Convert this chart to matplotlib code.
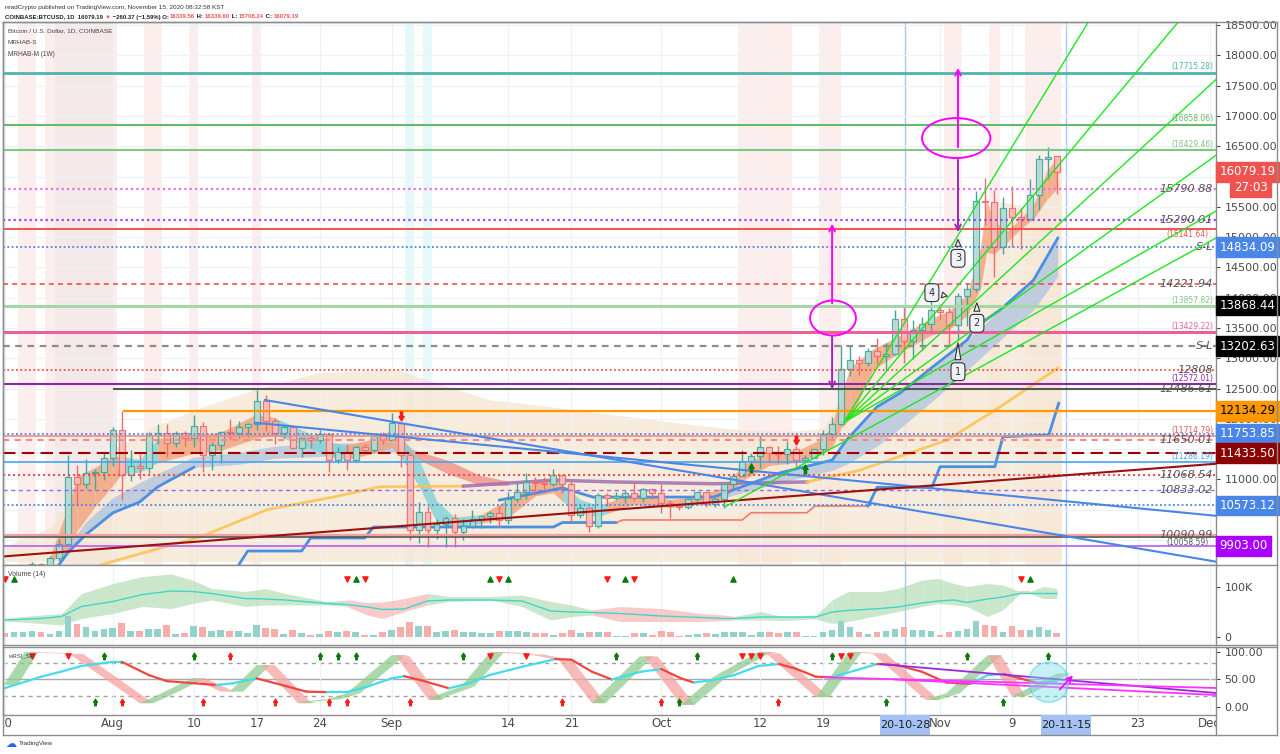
import numpy as np
import matplotlib
matplotlib.use("Agg")
import matplotlib.pyplot as plt
from matplotlib import font_manager
from matplotlib.patches import Ellipse, Polygon, Rectangle
from matplotlib.lines import Line2D
from matplotlib.transforms import Bbox

plt.rcParams['font.family'] = ['DejaVu Sans']
installed = {f.name for f in font_manager.fontManager.ttflist}
NARROW = 'Liberation Sans Narrow' if 'Liberation Sans Narrow' in installed else 'Liberation Sans'

W, H = 1280, 754


def fx(px):
    return px / W


def fy(py):
    return 1 - py / H


# ---------------- data (day index 0 = 2020-07-20) ----------------
opens = [9170, 9160, 9390, 9530, 9610, 9550, 9710, 9940, 11040, 10930,
         11110, 11120, 11350, 11810, 11070, 11230, 11190, 11740, 11770, 11600,
         11760, 11680, 11880, 11400, 11570, 11780, 11770, 11860, 11910, 12300,
         11960, 11760, 11860, 11520, 11680, 11650, 11750, 11330, 11460, 11320,
         11530, 11480, 11710, 11660, 11930, 11400, 10170, 10470, 10170, 10260,
         10370, 10130, 10230, 10340, 10390, 10440, 10330, 10680, 10790, 10960,
         10940, 10930, 11080, 10920, 10420, 10530, 10240, 10740, 10690, 10730,
         10770, 10700, 10840, 10780, 10620, 10570, 10550, 10670, 10790, 10600,
         10670, 10920, 11060, 11300, 11380, 11540, 11430, 11420, 11500, 11320,
         11360, 11500, 11750, 11920, 12820, 12980, 12930, 13120, 13030, 13070,
         13650, 13280, 13460, 13560, 13800, 13760, 13550, 14030, 14150, 15590,
         15580, 14830, 15480, 15330, 15300, 15700, 16290, 16339.56]
highs = [9195, 9430, 9550, 9640, 9630, 9730, 10020, 11400, 11240, 11340,
         11170, 11450, 11860, 12130, 11480, 11420, 11790, 11910, 11910, 11800,
         11800, 12060, 11950, 11620, 11800, 12000, 11960, 11930, 12470, 12390,
         12020, 11890, 11880, 11690, 11720, 11810, 11770, 11540, 11590, 11550,
         11580, 11720, 11780, 12090, 11950, 11460, 10630, 10560, 10350, 10400,
         10430, 10350, 10500, 10410, 10480, 10560, 10800, 10940, 11100, 11040,
         11040, 11180, 11080, 10990, 10580, 10550, 10780, 10780, 10800, 10810,
         10960, 10860, 10850, 10920, 10660, 10600, 10690, 10800, 10800, 10690,
         10950, 11110, 11490, 11440, 11720, 11560, 11560, 11630, 11550, 11400,
         11510, 11820, 12030, 13220, 13200, 13030, 13170, 13340, 13250, 13790,
         13860, 13640, 13680, 14100, 13900, 13830, 14070, 14250, 15760, 15970,
         15770, 15660, 15850, 15480, 15960, 16350, 16490, 16339.60]
lows = [9125, 9150, 9280, 9480, 9480, 9540, 9650, 9920, 10560, 10860,
        10840, 10990, 11230, 10660, 10970, 11010, 11100, 11590, 11370, 11530,
        11550, 11530, 11120, 11160, 11270, 11650, 11680, 11700, 11820, 11800,
        11580, 11680, 11500, 11370, 11520, 11600, 11130, 11280, 11150, 11290,
        11440, 11460, 11590, 11650, 11200, 10000, 9960, 9880, 10020, 9890,
        9880, 10000, 10200, 10200, 10290, 10210, 10260, 10630, 10680, 10750,
        10820, 10900, 10770, 10300, 10360, 10140, 10200, 10560, 10660, 10620,
        10650, 10630, 10680, 10440, 10370, 10490, 10520, 10630, 10540, 10540,
        10530, 10830, 11050, 11230, 11190, 11300, 11280, 11260, 11230, 11310,
        11350, 11410, 11690, 11900, 12700, 12730, 12880, 12900, 12800, 13060,
        12920, 12990, 13140, 13430, 13640, 13220, 13300, 13530, 14100, 15200,
        14350, 14720, 14830, 14810, 15290, 15450, 15960, 15708.24]
closes = [9160, 9390, 9530, 9610, 9550, 9710, 9940, 11040, 10930, 11110,
          11120, 11350, 11810, 11070, 11230, 11190, 11740, 11770, 11600, 11760,
          11680, 11880, 11400, 11570, 11780, 11770, 11860, 11910, 12300, 11960,
          11760, 11860, 11520, 11680, 11650, 11750, 11330, 11460, 11320, 11530,
          11480, 11710, 11660, 11930, 11400, 10170, 10470, 10170, 10260, 10370,
          10130, 10230, 10340, 10390, 10440, 10330, 10680, 10790, 10960, 10940,
          10930, 11080, 10920, 10420, 10530, 10240, 10740, 10690, 10730, 10770,
          10700, 10840, 10780, 10620, 10570, 10550, 10670, 10790, 10600, 10670,
          10920, 11060, 11300, 11380, 11540, 11430, 11420, 11500, 11320, 11360,
          11500, 11750, 11920, 12820, 12980, 12930, 13120, 13030, 13070, 13650,
          13280, 13460, 13560, 13800, 13760, 13550, 14030, 14150, 15590, 15580,
          14830, 15480, 15330, 15300, 15700, 16290, 16330, 16079.19]

volume_k = [8, 10, 10, 13, 10, 7, 12, 43, 27, 20, 12, 17, 18, 29, 13, 12, 17, 17, 25, 7,
            8, 22, 21, 13, 15, 13, 13, 9, 25, 18, 17, 7, 15, 9, 5, 7, 13, 10, 13, 10,
            5, 5, 10, 15, 20, 30, 23, 22, 10, 13, 15, 11, 11, 8, 8, 12, 13, 12, 10, 9,
            9, 5, 9, 15, 9, 10, 10, 10, 3, 3, 9, 8, 5, 13, 10, 3, 5, 7, 8, 7,
            11, 10, 10, 5, 11, 10, 8, 10, 10, 3, 3, 10, 15, 32, 20, 11, 7, 10, 12, 17,
            21, 15, 15, 12, 5, 10, 13, 17, 32, 25, 23, 11, 22, 15, 15, 21, 15, 9]

# MRHAB-S short ribbon
sb_i = [5, 7, 8, 10, 12, 13, 15, 17, 21, 24, 28, 30, 33, 36, 38, 41, 43, 44, 46, 48,
        50, 53, 56, 59, 61, 62, 64, 66, 67, 70, 74, 77, 80, 82, 85, 88, 91, 92, 93, 94,
        96.6, 99.6, 103, 105, 107, 108.5, 109.2, 110, 111.5, 113, 114.4, 115.9, 117]
sb_lo = [9620, 9850, 10150, 10550, 10900, 11100, 11120, 11280, 11430, 11480,
         11680, 11730, 11580, 11380, 11330, 11430, 11530, 11380, 10900, 10300,
         10180, 10280, 10380, 10730, 10780, 10640, 10440, 10390, 10440, 10590,
         10540, 10590, 10690, 10980, 11230, 11280, 11430, 11530, 11850, 12000,
         12820, 13100, 13380, 13480, 13700, 14150, 14750, 14720, 14920, 15140,
         15300, 15620, 15800]
sb_hi = [9720, 10550, 11050, 11200, 11380, 11380, 11330, 11680, 11730, 11780,
         12080, 12020, 11820, 11620, 11570, 11670, 11820, 11720, 11350, 10650,
         10380, 10420, 10680, 10970, 11020, 10920, 10670, 10570, 10620, 10770,
         10670, 10720, 10880, 11230, 11470, 11470, 11680, 11900, 12400, 12850,
         13160, 13380, 13660, 13780, 14050, 14820, 15600, 15260, 15100, 15310,
         15530, 16100, 16300]
sb_bull = "11111001111000111000011110001111111111111111111111111"

# weekly cloud (beige)
beige_i = [0, 5, 8, 12, 17, 22, 27.6, 34.8, 41.7, 43, 48, 54, 57.3, 66, 75, 81.8,
           88, 91, 95, 98, 104, 108, 110, 114, 117.5]
beige_top = [9900, 10200, 10900, 11500, 11900, 12200, 12476, 12763, 12807, 12840,
             12592, 12312, 12262, 12100, 11932, 11817, 11800, 11850, 12900, 13100,
             13700, 14100, 15600, 15500, 16300]
beige_floor = 9650

# slow blue band / line
bb1_i = [6, 9, 12, 15, 17, 21, 26, 30, 35, 39, 43, 45]
bb1_lo = [9590, 10090, 10450, 10630, 10880, 11200, 11250, 11350, 11380, 11420, 11450, 11450]
bb1_hi = [9700, 10300, 10700, 10950, 11100, 11370, 11450, 11550, 11600, 11600, 11620, 11500]
bl1_i = [6, 7, 9, 12, 15, 17, 21]
bl1_v = [9590, 9800, 10090, 10450, 10630, 10880, 11200]
bl2_i = [55, 62, 65.4, 78.8, 82.5, 86.2, 92, 93.6, 97, 99.6, 103.2, 107, 108, 110.7, 114.4, 117.1]
bl2_v = [10660, 10860, 10710, 10710, 10910, 11110, 11320, 11650, 12200, 12430, 12860,
         13300, 13520, 13800, 14290, 14985]
bb2_i = [78.8, 82.5, 86.2, 92, 93.6, 97, 99.6, 103.2, 107, 110.7, 114.4, 117.1]
bb2_hi = [10710, 10910, 11110, 11320, 11650, 12200, 12430, 12860, 13300, 13800, 14290, 14985]
bb2_lo = [10650, 10800, 10950, 11150, 11250, 11550, 11850, 12300, 12800, 13300, 13800, 14350]

# red ribbon after the September drop
rr_i = [44.5, 45.4, 49.2, 52.8, 56]
rr_hi = [11600, 11490, 11320, 11070, 10970]
rr_lo = [11500, 11370, 11100, 10910, 10900]

# moving average (yellow / purple parts)
ma_yellow1_i = [10.6, 15.4, 21.7, 29.1, 36.5, 41.7, 51]
ma_yellow1_v = [9590, 9790, 10050, 10500, 10710, 10880, 10890]
ma_purple_i = [51, 55, 61, 67.6, 78.8, 89.2]
ma_purple_v = [10890, 10930, 10990, 10960, 10930, 10960]
ma_yellow2_i = [89.2, 95, 104.8, 110.7, 117.1]
ma_yellow2_v = [10960, 11150, 11650, 12200, 12840]

# weekly step line
step_blue1_i = [26, 27, 33, 34, 40, 41, 61, 62, 68]
step_blue1_v = [9590, 9820, 9820, 10035, 10035, 10216, 10216, 10290, 10290]
step_red_i = [68, 68.7, 82, 83, 89.2, 90.1, 96]
step_red_v = [10290, 10332, 10332, 10452, 10452, 10563, 10563]
step_blue2_i = [96, 97, 103.1, 104, 110.1, 111, 116.1, 117.2]
step_blue2_v = [10563, 10871, 10871, 11211, 11211, 11706, 11734, 12257]

# drawn trend lines (x0, p0, x1, p1)
blue_trends = [(28.9, 12312, 134.7, 9644), (27.8, 11937, 134.7, 10401)]
red_trend = (-0.56, 9726, 134.7, 11260)
green_fan = [(93.3, 11945, 120.5, 18550), (93.3, 11945, 130.5, 18550),
             (93.3, 11945, 134.7, 17600), (93.3, 11945, 134.7, 16350),
             (93.3, 11945, 134.7, 15430), (80.1, 10550, 134.7, 14985)]

# horizontal levels: price, colour, style, width, start index
levels = [
    (17715.28, '#4db6ac', 'solid', 2.0, None),
    (16858.06, '#66bb6a', 'solid', 1.5, None),
    (16429.46, '#81c784', 'solid', 1.5, None),
    (15790.88, '#f06cf0', 'dot', 1.6, None),
    (15290.01, '#a142f4', 'dot', 1.6, None),
    (15141.64, '#ef5350', 'solid', 1.4, None),
    (14834.09, '#4a86e8', 'dot', 1.3, None),
    (14221.94, '#f05050', 'dash', 1.2, None),
    (13857.82, '#a5d6a7', 'solid', 2.2, None),
    (13429.22, '#ec5f99', 'solid', 2.2, None),
    (13202.63, '#8c8c8c', 'dash', 1.6, None),
    (12808.00, '#f05050', 'dot', 1.3, None),
    (12572.01, '#8e24aa', 'solid', 1.5, None),
    (12486.61, '#555555', 'solid', 1.5, 12.0),
    (12134.29, '#ff9800', 'solid', 1.6, 13.1),
    (11753.85, '#4a86e8', 'dot', 1.3, None),
    (11714.79, '#f28b82', 'solid', 1.2, None),
    (11650.01, '#f48a8a', 'dash', 1.5, None),
    (11433.50, '#a00000', 'longdash', 1.5, None),
    (11286.19, '#42a5f5', 'solid', 1.2, None),
    (11068.54, '#f05050', 'dot', 1.5, None),
    (10833.02, '#9c6ade', 'dash', 1.0, None),
    (10573.12, '#4a86e8', 'dot', 1.3, None),
    (10090.99, '#f4a0a0', 'solid', 1.6, None),
    (10058.59, '#555555', 'solid', 1.2, None),
    (9903.00, '#b45ff0', 'solid', 1.2, None),
]
italic_labels = [(15790.88, '15790.88'), (15290.01, '15290.01'), (14834.09, 'S-L'),
                 (14221.94, '14221.94'), (13202.63, 'S-L'), (12808.00, '12808'),
                 (12486.61, '12486.61'), (11650.01, '11650.01'), (11068.54, '11068.54'),
                 (10833.02, '10833.02'), (10090.99, '10090.99')]
# price, colour, label above (True) or just below (False) its line
small_labels = [(17715.28, '#4db6ac', True), (16858.06, '#66bb6a', True),
                (16429.46, '#81c784', True), (15141.64, '#ef5350', False),
                (13857.82, '#81c784', True), (13429.22, '#ec5f99', True),
                (12572.01, '#8e24aa', True), (11714.79, '#ef5350', True),
                (11286.19, '#42a5f5', True), (10058.59, '#555555', False)]
price_tags = [(16079.19, '#ef5350', 'white'), (14834.09, '#4a86e8', 'white'),
              (13868.44, '#000000', 'white'), (13202.63, '#000000', 'white'),
              (12134.29, '#ff9800', 'black'), (11753.85, '#4a86e8', 'white'),
              (11433.50, '#8b0000', 'white'), (10573.12, '#4a86e8', 'white'),
              (9903.00, '#aa00ff', 'white')]
hidden_ticks = [16000, 11500, 10500, 10000]

# volume envelope
ve_i = [0, 4, 6.3, 8.5, 12, 15.3, 18.5, 20.8, 23, 26.7, 28.9, 31.2, 35.8, 38, 40.3,
        42, 44.4, 47, 49.4, 54, 57.5, 60.7, 63, 65.3, 68.4, 73, 77.5, 80, 81.1, 84,
        86.6, 90.2, 92, 93.8, 97.4, 99.3, 102, 103.8, 105.6, 107, 109.3, 111, 112.9,
        114, 115.5, 117]
ve_up = [38, 44, 47, 87, 107, 121, 126, 114, 97, 91, 97, 87, 71, 74, 69, 70, 77, 87,
         81, 81, 84, 71, 64, 54, 61, 57, 47, 44, 41, 51, 41, 44, 74, 91, 91, 97, 114,
         117, 107, 101, 107, 104, 91, 91, 101, 97]
ve_lo = [32, 27, 24, 37, 47, 61, 57, 67, 74, 61, 64, 64, 64, 61, 44, 37, 51, 64, 71,
         74, 61, 34, 41, 44, 31, 31, 31, 33, 34, 34, 33, 36, 27, 31, 44, 51, 61, 67,
         64, 61, 41, 54, 87, 87, 77, 77]
ve_mid = [34, 37, 41, 61, 71, 85, 92, 91, 87, 77, 76, 74, 67, 65, 60, 55, 56, 72, 74,
          74, 72, 52, 50, 49, 47, 42, 39, 37, 37, 40, 40, 40, 50, 53, 57, 60, 68, 72,
          74, 69, 76, 80, 87, 87, 87, 87]
ve_green = "1111111111111000011111100000111111111111110111"
vol_tri_down = [0, 38, 40, 55, 67, 70, 113]
vol_tri_up = [1, 39, 54, 56, 69, 81, 114]

# wRSI
rsi_i = [-0.1, 4, 6.2, 8.5, 12, 13, 16, 18, 21.2, 23.5, 25.3, 28, 30.8, 33.5, 35.8,
         38, 40.3, 43, 44.4, 46.2, 49.4, 51.6, 53.9, 57.5, 61.2, 63, 65.3, 67.5, 70.7,
         73, 75.2, 76.6, 78.8, 81.1, 83.8, 86.1, 87.9, 90.2, 92, 94.7, 97, 99.3, 102,
         104.7, 107.4, 109.3, 111.1, 112.9, 114.7, 117]
rsi_v = [34, 55, 64, 74.5, 82, 82, 58, 47, 43, 40, 43, 52, 40, 28, 27, 27, 37, 52,
         56, 49, 34, 43, 58, 73, 87, 86, 64, 50, 64, 69, 52, 44.5, 49, 58, 74.5, 78,
         70, 55, 54, 67, 78, 76, 64, 44.5, 42, 58, 60, 52, 44.5, 46]
wr_i = [-0.1, 2.2, 7.2, 15, 16.5, 20.8, 24, 25, 28, 28.5, 32.6, 33, 35.8, 38, 43,
        43.5, 47.1, 47.6, 50.7, 54, 58.5, 61.6, 65.3, 65.8, 70.6, 71.1, 75.2, 78.8,
        83.8, 84.7, 90.2, 93.8, 96.5, 102.4, 104.7, 109.3, 112, 117]
wr_v = [40, 100, 96, 7, 18, 52, 28, 28, 76, 76, 7, 10, 14, 25, 94, 92, 13, 19, 37,
        100, 95, 85, 7, 15, 92, 92, 4, 55, 100, 97, 18, 100, 97, 13, 25, 94, 19, 61]
rsi_top_down = [3, 7, 54, 58, 82, 83, 84, 93, 94]
rsi_top_up_red = [25]
rsi_top_up_green = [11, 21, 35, 37, 39, 51, 68, 77, 92, 107, 116]
rsi_bot_up_red = [13, 22, 30, 36, 38, 45, 62, 73, 86]
rsi_bot_up_green = [10, 75, 98, 111]

# x axis labels
xt_pos = [0, 12, 21, 28, 35, 43, 56, 63, 73, 84, 91, 104, 112, 126, 134]
xt_lab = ['20', 'Aug', '10', '17', '24', 'Sep', '14', '21', 'Oct', '12', '19', 'Nov', '9', '23', 'Dec']
cursor_pos = [100.1, 118]
cursor_lab = ['20-10-28', '20-11-15']

XMIN, XMAX = -0.22, 134.7
PMIN, PMAX = 9589, 18550

# ---------------- figure ----------------
fig = plt.figure(figsize=(12.8, 7.54), dpi=100)
renderer = fig.canvas.get_renderer()
ax = fig.add_axes([fx(3), fy(565), fx(1216) - fx(3), fy(22) - fy(565)])
axv = fig.add_axes([fx(3), fy(645), fx(1216) - fx(3), fy(565) - fy(645)])
axr = fig.add_axes([fx(3), fy(715), fx(1216) - fx(3), fy(647) - fy(715)])


def fit_width(t, target_px):
    w = t.get_window_extent(renderer=renderer).width
    t.set_fontsize(t.get_fontsize() * target_px / w)
    return t


styles = {'solid': '-', 'dot': (0, (1, 1.4)), 'dash': (0, (3, 2.5)), 'longdash': (0, (6, 3))}
up_arrow = [(-0.6, 0), (0, 1), (0.6, 0), (0.25, 0), (0.25, -1), (-0.25, -1), (-0.25, 0), (-0.6, 0)]
down_arrow = [(x, -y) for x, y in up_arrow]

for a in (ax, axv, axr):
    a.set_xlim(XMIN, XMAX)
    a.set_xticks(xt_pos)
    a.tick_params(axis='x', length=0, labelbottom=False)
    a.grid(axis='x', color='#eef1f6', lw=0.9, zorder=0)
    a.yaxis.tick_right()
    a.tick_params(axis='y', length=3, pad=3, labelsize=8, colors='#4a4a4a')
    for s in a.spines.values():
        s.set_color('#8c8c8c')
        s.set_linewidth(1)
    for c in cursor_pos:
        a.axvline(c, color='#a8c8f0', lw=1, zorder=1)

# ---- main price panel ----
ax.set_ylim(PMIN, PMAX)
yt = np.arange(10000, 18501, 500)
ax.set_yticks(yt)
ax.set_yticklabels(['' if v in hidden_ticks else f'{v:.2f}' for v in yt])
ax.grid(axis='y', color='#eef1f6', lw=0.9, zorder=0)

for a0, a1 in [(1.5, 3.5), (4.5, 12.5), (15.5, 17.5), (20.5, 21.5), (27.5, 28.5),
               (81.5, 87.5), (90.5, 93), (104.5, 106.5), (109.5, 110.7), (113.5, 117.5)]:
    ax.axvspan(a0, a1, color='#fdeaea', alpha=0.8, lw=0, zorder=0.5)
ax.axvspan(5.6, 12.1, color='#efe6e7', alpha=0.6, lw=0, zorder=0.6)
for a0, a1 in [(44.5, 45.5), (46.5, 47.5)]:
    ax.axvspan(a0, a1, color='#e3f8fa', alpha=0.9, lw=0, zorder=0.5)

ax.fill_between(beige_i, beige_floor, beige_top, color='#f6e6d2', alpha=0.8, lw=0, zorder=1)

ax.fill_between(bb1_i, bb1_lo, bb1_hi, color='#aec4df', alpha=0.75, lw=0, zorder=2)
ax.fill_between(bb2_i, bb2_lo, bb2_hi, color='#aec4df', alpha=0.75, lw=0, zorder=2)
ax.fill_between(rr_i, rr_lo, rr_hi, color='#f28b82', alpha=0.75, lw=0, zorder=2)
for k in range(len(sb_i) - 1):
    col = '#f2a27c' if sb_bull[k] == '1' else '#7fd3d6'
    ax.fill_between(sb_i[k:k + 2], sb_lo[k:k + 2], sb_hi[k:k + 2], color=col,
                    alpha=0.8, lw=0, zorder=2.2)

ax.plot(ma_yellow1_i, ma_yellow1_v, color='#ffc14d', lw=2, alpha=0.85, zorder=3)
ax.plot(ma_purple_i, ma_purple_v, color='#a070b0', lw=2.5, alpha=0.85, zorder=3)
ax.plot(ma_yellow2_i, ma_yellow2_v, color='#ffc14d', lw=2, alpha=0.85, zorder=3)
ax.plot(bl1_i, bl1_v, color='#4a90e2', lw=2, zorder=3)
ax.plot(bl2_i, bl2_v, color='#4a90e2', lw=2, zorder=3)
ax.plot(step_blue1_i, step_blue1_v, color='#4a90e2', lw=2, zorder=3)
ax.plot(step_red_i, step_red_v, color='#f4796b', lw=1.2, zorder=3)
ax.plot(step_blue2_i, step_blue2_v, color='#4a90e2', lw=2, zorder=3)

# candles
body_lo = [min(o, c) for o, c in zip(opens, closes)]
body_h = [max(abs(c - o), 18) for o, c in zip(opens, closes)]
is_up = [c >= o for o, c in zip(opens, closes)]
xs = np.arange(len(opens))
edge = ['#3fa89b' if u else '#ef6b6b' for u in is_up]
face = ['#bcdcd6' if u else '#f6c2bf' for u in is_up]
ax.vlines(xs, lows, highs, colors=edge, lw=1, zorder=4)
ax.bar(xs, body_h, bottom=body_lo, width=0.66, color=face, edgecolor=edge,
       linewidth=0.9, alpha=0.9, zorder=4.2)

# levels
for p, c, st, lw, x0 in levels:
    ax.hlines(p, XMIN if x0 is None else x0, XMAX, colors=c, linestyles=[styles[st]],
              lw=lw, zorder=5)
for p, s in italic_labels:
    ax.text(134.4, p, s, ha='right', va='center', fontsize=8, style='italic',
            color='#555555', zorder=6)
for p, c, above in small_labels:
    ax.text(134.4 if above else 133.9, p + 25 if above else p - 25, f'({p:.2f})',
            ha='right', va='bottom' if above else 'top', fontsize=5.5, color=c, zorder=6)

# trend lines
for x0, p0, x1, p1 in blue_trends:
    ax.plot([x0, x1], [p0, p1], color='#4a86e8', lw=1.5, zorder=5)
ax.plot([red_trend[0], red_trend[2]], [red_trend[1], red_trend[3]], color='#9b1010',
        lw=1.5, zorder=5)
for x0, p0, x1, p1 in green_fan:
    ax.plot([x0, x1], [p0, p1], color='#1ee61e', lw=1, zorder=6)

# signal markers
ax.scatter([44, 88], [12048, 11652], marker=down_arrow, s=40, color='#ff1a1a', zorder=7)
ax.scatter([83, 89], [11185, 11168], marker=up_arrow, s=40, color='#0a7a0a', zorder=7)

# hand drawn annotations
ax.add_patch(Ellipse((92.1, 13665), 5.1, 578, fill=False, ec='#ff00ff', lw=1.4, zorder=8))
ax.add_patch(Ellipse((105.8, 16635), 7.6, 660, fill=False, ec='#ff00ff', lw=1.4, zorder=8))
ax.annotate('', xy=(92, 15266), xytext=(92, 13860),
            arrowprops=dict(arrowstyle='->', color='#ff00ff', lw=1.4), zorder=8)
ax.annotate('', xy=(92, 12444), xytext=(92, 13400),
            arrowprops=dict(arrowstyle='->', color='#9c27b0', lw=1.4), zorder=8)
ax.annotate('', xy=(106, 17840), xytext=(106, 16437),
            arrowprops=dict(arrowstyle='->', color='#ff00ff', lw=1.4), zorder=8)
ax.annotate('', xy=(106, 15035), xytext=(106, 16322),
            arrowprops=dict(arrowstyle='->', color='#9c27b0', lw=1.4), zorder=8)

for num, box, tip in [('1', (106, 12779), (106, 13302)), ('2', (108.1, 13578), (108.1, 13962)),
                      ('3', (106, 14650), (106, 15007)), ('4', (103.1, 14083), (105.1, 14017))]:
    ax.annotate(num, xy=tip, xytext=box, ha='center', va='center', fontsize=7,
                color='#333333', zorder=9,
                bbox=dict(boxstyle='round,pad=0.4', fc='#eef2f7', ec='#333333', lw=0.8),
                arrowprops=dict(arrowstyle='wedge,tail_width=0.6,shrink_factor=0.5',
                                fc='#eef2f7', ec='#333333', lw=0.8))

for p, bg, tc in price_tags:
    ax.text(1.003, p, f'{p:.2f}', transform=ax.get_yaxis_transform(), ha='left',
            va='center', fontsize=8.5, color=tc, clip_on=False, zorder=20,
            bbox=dict(boxstyle='square,pad=0.28', fc=bg, ec=bg))
ax.text(1.0425, 15827, '27:03', transform=ax.get_yaxis_transform(), ha='right',
        va='center', fontsize=8.5, color='white', clip_on=False, zorder=20,
        bbox=dict(boxstyle='square,pad=0.28', fc='#ef5350', ec='#ef5350'))

for txt, py, wpx in [('Bitcoin / U.S. Dollar, 1D, COINBASE', 31, 104), ('MRHAB-S', 43, 29),
                     ('MRHAB-M (1W)', 55, 47)]:
    t = fig.text(fx(8), fy(py), txt, fontsize=7, family=[NARROW, 'DejaVu Sans'],
                 color='#444444', va='center', zorder=10)
    fit_width(t, wpx)

# ---- volume panel ----
axv.set_ylim(-16000, 144000)
axv.set_yticks([0, 100000])
axv.set_yticklabels(['0', '100K'])
axv.bar(xs, [v * 1000 for v in volume_k], width=0.75,
        color=['#93d2ca' if u else '#f7aeab' for u in is_up], lw=0, zorder=3)
for k in range(len(ve_i) - 1):
    col = '#a9d8a9' if ve_green[k] == '1' else '#f8a8a8'
    axv.fill_between(ve_i[k:k + 2], [v * 1000 for v in ve_lo[k:k + 2]],
                     [v * 1000 for v in ve_up[k:k + 2]], color=col, alpha=0.6, lw=0, zorder=2)
axv.plot(ve_i, [v * 1000 for v in ve_mid], color='#3fd6c8', lw=1, zorder=4)
axv.scatter(vol_tri_down, [116000] * len(vol_tri_down), marker='v', s=14, color='#ff1a1a', zorder=5)
axv.scatter(vol_tri_up, [116000] * len(vol_tri_up), marker='^', s=14, color='#0a7a0a', zorder=5)
t = fig.text(fx(8), fy(574), 'Volume (14)', fontsize=7, family=[NARROW, 'DejaVu Sans'],
             color='#444444', va='center')
fit_width(t, 37)

# ---- wRSI panel ----
axr.set_ylim(-14.5, 109)
axr.set_yticks([0, 50, 100])
axr.set_yticklabels(['0.00', '50.00', '100.00'])
axr.axhline(80, color='#a0a0a0', lw=1, ls=(0, (3, 3)), zorder=1)
axr.axhline(50, color='#a8a8a8', lw=1, zorder=1)
axr.axhline(20, color='#a0a0a0', lw=1, ls=(0, (3, 3)), zorder=1)
lag = 1.5
for k in range(len(wr_i) - 1):
    t0, t1, v0, v1 = wr_i[k], wr_i[k + 1], wr_v[k], wr_v[k + 1]
    col = '#8fcd8f' if v1 >= v0 else '#f5a3a0'
    axr.add_patch(Polygon([(t0, v0), (t1, v1), (t1 + lag, v1), (t0 + lag, v0)],
                          closed=True, fc=col, ec='none', alpha=0.75, zorder=2))
for k in range(len(rsi_i) - 1):
    col = '#45dcea' if rsi_v[k + 1] >= rsi_v[k] else '#f2453d'
    axr.plot(rsi_i[k:k + 2], rsi_v[k:k + 2], color=col, lw=1.6, zorder=3,
             solid_capstyle='round')
axr.scatter(rsi_top_down, [92] * len(rsi_top_down), marker='v', s=14, color='#ff1a1a', zorder=5)
axr.scatter(rsi_top_up_red, [92], marker=up_arrow, s=22, color='#ff1a1a', zorder=5)
axr.scatter(rsi_top_up_green, [92] * len(rsi_top_up_green), marker=up_arrow, s=22,
            color='#0a7a0a', zorder=5)
axr.scatter(rsi_bot_up_red, [10] * len(rsi_bot_up_red), marker=up_arrow, s=22,
            color='#ff1a1a', zorder=5)
axr.scatter(rsi_bot_up_green, [10] * len(rsi_bot_up_green), marker=up_arrow, s=22,
            color='#0a7a0a', zorder=5)
axr.plot([97.4, 134.7], [78, 25.5], color='#9c27e0', lw=1.3, zorder=4)
axr.plot([91.1, 134.7], [54, 34.5], color='#ff33ff', lw=1.3, zorder=4)
axr.plot([99, 134.7], [50, 21.8], color='#ff33ff', lw=1.3, zorder=4)
axr.add_patch(Ellipse((116.1, 45), 4.45, 72.7, fc='#80deea', ec='#26c6da', alpha=0.45,
                      lw=1, zorder=6))
axr.annotate('', xy=(119, 61), xytext=(117.1, 28),
             arrowprops=dict(arrowstyle='->', color='#ff00ff', lw=1.2), zorder=7)
t = fig.text(fx(8), fy(656), 'wRSI_SR', fontsize=7, family=[NARROW, 'DejaVu Sans'],
             color='#444444', va='center')
fit_width(t, 26)

# x labels, clipped to the time-axis strip
strip = Bbox([[3, H - 735], [1216, H - 715]])
for p, s in zip(xt_pos, xt_lab):
    t = axr.text(p, -0.13, s, transform=axr.get_xaxis_transform(), ha='center',
                 va='center', fontsize=8.5, color='#4a4a4a', zorder=10)
    t.set_clip_on(True)
    t.set_clip_box(strip)
for p, s in zip(cursor_pos, cursor_lab):
    axr.add_patch(Rectangle((p - 2.75, -0.294), 5.5, 0.294, transform=axr.get_xaxis_transform(),
                            fc='#a4c2f4', ec='none', clip_on=False, zorder=19))
    axr.text(p, -0.147, s, transform=axr.get_xaxis_transform(), ha='center', va='center',
             fontsize=8, color='#222222', clip_on=False, zorder=20)

# frame lines around the whole chart
frame = [((3, 1277), (22, 22)), ((3, 1277), (735, 735)), ((3, 3), (22, 735)),
         ((1277, 1277), (22, 735)), ((1216, 1216), (715, 735)),
         ((1216, 1277), (565, 565)), ((1216, 1277), (645, 645)), ((1216, 1277), (647, 647))]
for (x0, x1), (y0, y1) in frame:
    fig.add_artist(Line2D([fx(x0), fx(x1)], [fy(y0), fy(y1)], color='#8c8c8c', lw=1))

# header
t = fig.text(fx(5), fy(8), 'readCrypto published on TradingView.com, November 15, 2020 08:32:58 KST',
             fontsize=7, family=[NARROW, 'DejaVu Sans'], color='#333333', va='center')
fit_width(t, 220)
pieces = [('COINBASE:BTCUSD, 1D  16079.19 ', '#222222'), ('\u25bc', '#ef5350'),
          (' \u2212260.37 (\u22121.59%) O: ', '#222222'), ('16339.56', '#ef5350'),
          (' H: ', '#222222'), ('16339.60', '#ef5350'), (' L: ', '#222222'),
          ('15708.24', '#ef5350'), (' C: ', '#222222'), ('16079.19', '#ef5350')]
parts = [fig.text(0, fy(17), s, fontsize=7, family=[NARROW, 'DejaVu Sans'], color=c,
                  va='center', weight='bold') for s, c in pieces]
total = sum(p.get_window_extent(renderer=renderer).width for p in parts)
xpos = fx(5)
for p in parts:
    p.set_fontsize(7 * 297 / total)
    p.set_x(xpos)
    xpos += p.get_window_extent(renderer=renderer).width / W
fig.text(fx(5), fy(744), '\u2601', fontsize=8, color='#2962ff', va='center')
t = fig.text(fx(19), fy(744), 'TradingView', fontsize=7, family=[NARROW, 'DejaVu Sans'],
             color='#333333', va='center')
fit_width(t, 34)

fig.savefig('out.png', dpi=100)
